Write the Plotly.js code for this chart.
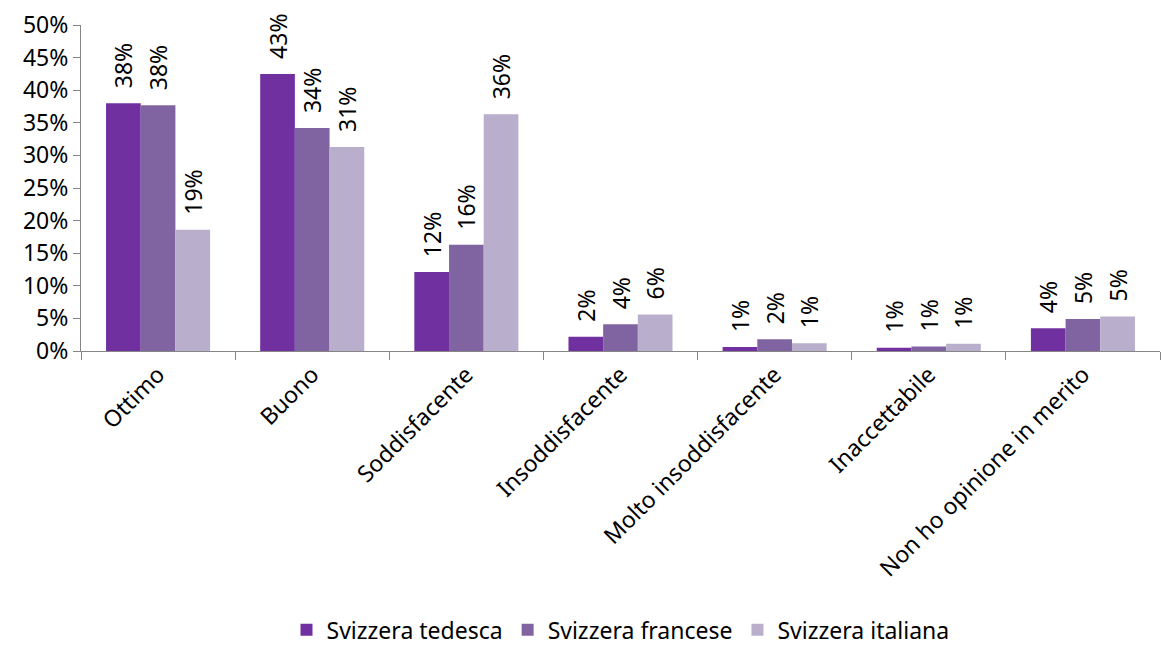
<!DOCTYPE html>
<html>
<head>
<meta charset="utf-8">
<script src="https://cdn.plot.ly/plotly-3.0.1.min.js"></script>
<style>html,body{margin:0;padding:0;background:#fff;}#chart{width:1162px;height:645px;}</style>
</head>
<body>
<div id="chart"></div>
<script>
const categories = ["Ottimo", "Buono", "Soddisfacente", "Insoddisfacente", "Molto insoddisfacente", "Inaccettabile", "Non ho opinione in merito"];
const seriesNames = ["Svizzera tedesca", "Svizzera francese", "Svizzera italiana"];
const tedesca  = [38.0, 42.5, 12.1, 2.2, 0.6, 0.5, 3.5];
const francese = [37.7, 34.2, 16.3, 4.1, 1.8, 0.7, 4.9];
const italiana = [18.6, 31.3, 36.3, 5.6, 1.2, 1.1, 5.3];
const yTicks = [0, 5, 10, 15, 20, 25, 30, 35, 40, 45, 50];

const colors = ["#7030A0", "#8064A2", "#B9AECB"];
const font = "Noto Sans, Open Sans, Arial, sans-serif";
const fs = 23;
const data = [tedesca, francese, italiana].map((vals, i) => ({
  type: "bar",
  name: seriesNames[i],
  x: categories,
  y: vals,
  text: vals.map(v => "\u00a0\u00a0" + Math.round(v) + "%"),
  textposition: "outside",
  textangle: -90,
  constraintext: "none",
  cliponaxis: false,
  textfont: {family: font, size: fs, color: "#000"},
  marker: {color: colors[i], line: {width: 0}},
  hoverinfo: "none"
}));

const layout = {
  width: 1162, height: 645,
  margin: {l: 81, r: 2, t: 25, b: 294, autoexpand: false},
  paper_bgcolor: "#fff", plot_bgcolor: "#fff",
  font: {family: font, size: fs, color: "#000"},
  barmode: "group",
  bargap: 0.325,
  bargroupgap: 0,
  showlegend: true,
  legend: {
    orientation: "h", x: 0.5, xanchor: "center",
    y: -0.855, yanchor: "middle",
    font: {family: font, size: fs, color: "#000"},
    traceorder: "normal",
    itemwidth: 30
  },
  xaxis: {
    type: "category",
    automargin: false,
    tickangle: -45,
    tickson: "boundaries",
    ticks: "outside", ticklen: 8, tickcolor: "#868686",
    showline: true, linecolor: "#868686", linewidth: 1,
    showgrid: false, zeroline: false,
    tickfont: {family: font, size: fs, color: "#000"}
  },
  yaxis: {
    range: [0, 50],
    automargin: false,
    tickvals: yTicks,
    ticktext: yTicks.map(v => v + "%"),
    ticks: "outside", ticklen: 7, tickcolor: "#868686",
    showline: true, linecolor: "#868686", linewidth: 1,
    showgrid: false, zeroline: false,
    tickfont: {family: font, size: fs, color: "#000"}
  }
};

Plotly.newPlot("chart", data, layout, {displayModeBar: false, staticPlot: true});
</script>
</body>
</html>
